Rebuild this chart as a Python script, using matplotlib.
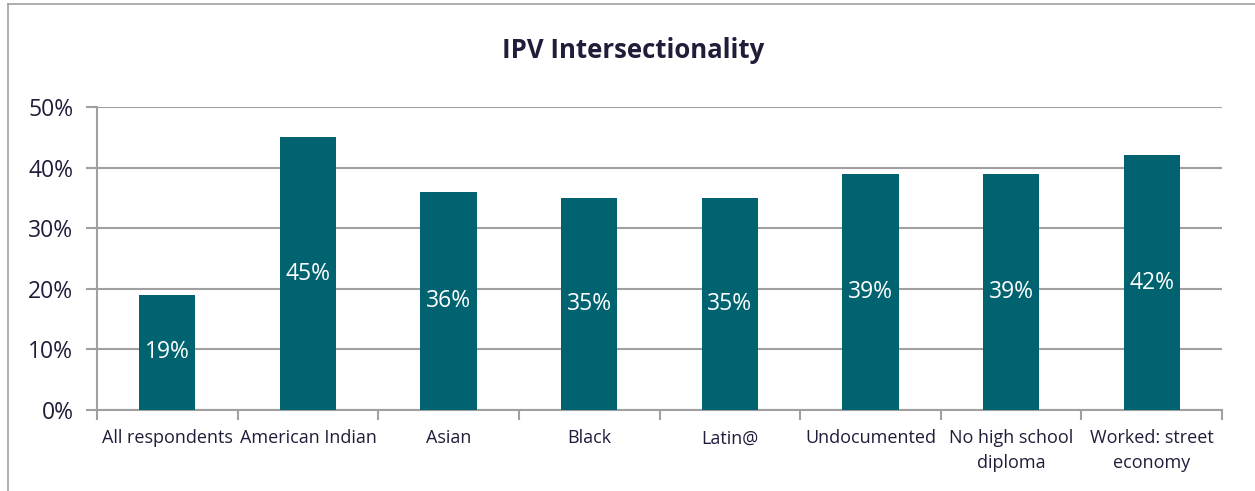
import matplotlib.pyplot as plt
from matplotlib.lines import Line2D

# data
categories = ['All respondents', 'American Indian', 'Asian', 'Black', 'Latin@',
              'Undocumented', 'No high school\ndiploma', 'Worked: street\neconomy']
values = [19, 45, 36, 35, 35, 39, 39, 42]

plt.rcParams['font.family'] = ['Open Sans', 'DejaVu Sans']
text_color = '#1f1d3a'
bar_color = '#00636f'
grid_color = '#a0a0a0'

W, H = 1255, 491
fig = plt.figure(figsize=(W / 100, H / 100), dpi=100)
ax = fig.add_axes([97 / W, 1 - 410 / H, (1222 - 97) / W, (410 - 107) / H])

x = range(len(categories))
bars = ax.bar(x, values, width=0.4, color=bar_color, zorder=3)

for b, v in zip(bars, values):
    ax.text(b.get_x() + b.get_width() / 2, v / 2, f'{v}%', ha='center', va='center',
            color='white', fontsize=16.5, zorder=4)

ax.set_xlim(-0.5, len(categories) - 0.5)
ax.set_ylim(0, 50)
ax.set_yticks(range(0, 51, 10))
ax.set_yticklabels([f'{t}%' for t in range(0, 51, 10)], fontsize=16.5, color=text_color)
ax.yaxis.grid(True, color=grid_color, linewidth=1.5, zorder=0)

ax.set_xticks(list(x))
ax.set_xticklabels(categories, fontsize=13, color=text_color, linespacing=1.45)
ax.set_xticks([i - 0.5 for i in range(len(categories) + 1)], minor=True)
ax.tick_params(axis='x', which='major', length=0, pad=14)
ax.tick_params(axis='x', which='minor', length=7, width=1.5, color=grid_color)
ax.tick_params(axis='y', length=8, width=1.5, color=grid_color, pad=9)

for s in ['top', 'right']:
    ax.spines[s].set_visible(False)
for s in ['left', 'bottom']:
    ax.spines[s].set_color(grid_color)
    ax.spines[s].set_linewidth(1.5)

fig.text(633 / W, 1 - 50 / H, 'IPV Intersectionality', ha='center', va='center',
         fontsize=18.5, fontweight='bold', color=text_color)

# outer chart frame (top and left edges visible)
fig.add_artist(Line2D([8 / W, 1], [1 - 4 / H, 1 - 4 / H], color=grid_color, linewidth=1.2))
fig.add_artist(Line2D([8 / W, 8 / W], [0, 1 - 4 / H], color=grid_color, linewidth=1.2))

fig.savefig('out.png', dpi=100)
